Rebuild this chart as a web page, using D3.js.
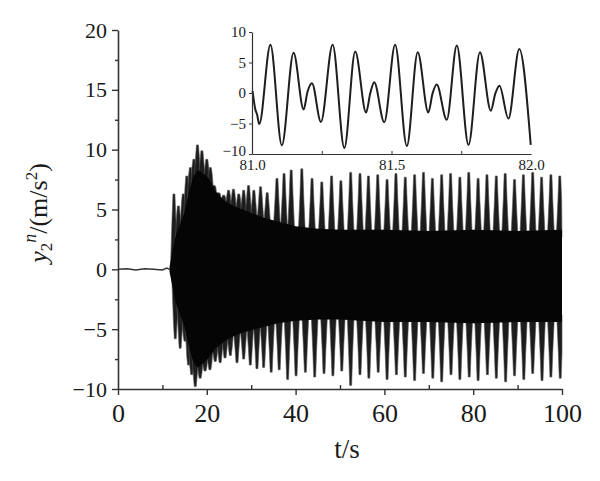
<!DOCTYPE html>
<html><head><meta charset="utf-8">
<script src="https://cdn.jsdelivr.net/npm/d3@7"></script>
<style>
body{margin:0;background:#fff}
svg{display:block}
text{font-family:"Liberation Serif","Times New Roman",serif;fill:#1a1a1a}
</style>
</head><body>
<svg id="c" width="600" height="481"></svg>
<script>
// ---------- data ----------
const xTicks = [0, 20, 40, 60, 80, 100];
const xMinor = [10, 30, 50, 70, 90];
const yTicks = [-10, -5, 0, 5, 10, 15, 20];
const yMinor = [-7.5, -2.5, 2.5, 7.5, 12.5, 17.5];

// quiet part before onset
const flatT = [0, 2, 4, 6, 8, 10, 11, 11.6];
const flatV = [0, 0.05, -0.05, 0.05, 0, -0.05, 0.1, 0];

// solid black core band of the response
const coreT   = [11.6, 12.3, 13, 14, 15, 16, 17, 18, 20, 22, 24, 26, 28, 30, 33, 36, 40, 45, 50, 60, 70, 80, 90, 100];
const coreTop = [0.2, 1.5, 2.8, 3.8, 4.8, 6.5, 7.8, 8.3, 7.8, 6.5, 5.7, 5.3, 5.0, 4.7, 4.3, 4.0, 3.6, 3.4, 3.3, 3.3, 3.2, 3.3, 3.2, 3.3];
const coreBot = [-0.2, -1.5, -2.8, -3.8, -4.8, -6.5, -7.8, -8.2, -7.6, -6.6, -6.0, -5.6, -5.3, -5.1, -4.8, -4.5, -4.3, -4.2, -4.2, -4.4, -4.4, -4.5, -4.4, -4.4];

// upper spikes (beat peaks)
const upT = [12.6, 13.6, 14.7, 15.5, 16.3, 17.1, 17.9, 18.9, 20.0, 20.8, 21.6, 22.6, 23.8, 24.9, 26.0, 27.2, 28.3, 29.4, 30.6, 32.1, 33.6, 35.8, 37.4, 39.0, 41.4, 43.7, 45.9, 48.1, 50.2, 52.4, 54.5, 56.4, 58.5, 60.6, 62.6, 64.7, 66.8, 68.8, 70.8, 72.9, 74.9, 77.0, 79.0, 81.1, 83.1, 85.2, 87.2, 89.3, 91.3, 93.4, 95.4, 97.5, 99.5];
const upV = [6.3, 5.3, 6.3, 7.8, 8.5, 9.2, 10.4, 9.9, 9.2, 8.5, 7.0, 6.4, 6.2, 6.6, 6.7, 6.3, 6.6, 7.0, 6.6, 6.9, 6.4, 7.6, 8.0, 8.3, 8.4, 7.6, 7.3, 7.8, 7.4, 8.1, 8.0, 7.8, 7.9, 7.5, 8.0, 7.7, 7.9, 8.1, 7.6, 7.9, 8.0, 7.7, 8.1, 7.6, 7.9, 7.8, 8.0, 7.5, 7.9, 8.1, 7.7, 7.9, 7.8];

// lower spikes
const loT = [12.9, 14.0, 15.1, 15.9, 16.6, 17.4, 18.5, 19.6, 20.7, 21.9, 23.0, 24.1, 25.3, 26.8, 28.3, 29.8, 31.3, 32.8, 34.5, 36.3, 38.2, 40.1, 42.2, 44.3, 46.4, 48.4, 50.4, 52.4, 54.5, 56.5, 58.6, 60.6, 62.7, 64.7, 66.8, 68.8, 70.9, 72.9, 75.0, 77.0, 79.1, 81.1, 83.2, 85.2, 87.3, 89.3, 91.4, 93.4, 95.5, 97.5, 99.6];
const loV = [-5.8, -6.6, -6.0, -8.0, -8.8, -9.8, -9.1, -8.5, -8.4, -7.7, -7.8, -7.4, -7.2, -7.8, -7.5, -8.0, -8.3, -8.2, -8.6, -8.4, -9.2, -8.9, -8.6, -9.0, -8.7, -8.9, -8.5, -9.7, -8.8, -9.1, -8.6, -9.2, -8.8, -9.0, -9.3, -8.7, -9.1, -9.4, -8.8, -9.2, -9.0, -9.3, -8.8, -9.1, -9.4, -8.9, -9.2, -8.7, -9.3, -9.0, -9.1];

// inset: 81.0 – 82.0 s detail (extrema and shoulders)
const insetT = [81.002, 81.012, 81.018, 81.026, 81.066, 81.107, 81.149, 81.185, 81.199, 81.215, 81.247, 81.289, 81.331, 81.370, 81.409, 81.424, 81.438, 81.474, 81.513, 81.555, 81.594, 81.632, 81.647, 81.662, 81.698, 81.734, 81.776, 81.817, 81.856, 81.872, 81.887, 81.919, 81.958, 81.999];
const insetV = [0.3, -2.7, -3.5, -5.1, 7.9, -8.6, 6.6, -2.7, 0.2, 1.6, -4.75, 7.9, -9.0, 6.8, -3.2, 0.0, 1.75, -4.8, 7.9, -8.7, 6.7, -3.2, -0.1, 1.4, -4.4, 7.8, -8.5, 6.7, -2.9, -0.1, 1.2, -4.2, 7.2, -8.5];
const insetXTicks = [81.0, 81.5, 82.0];
const insetXMinor = [81.25, 81.5, 81.75];
const insetYTicks = [-10, -5, 0, 5, 10];

// ---------- drawing ----------
const svg = d3.select('#c');
const x = d3.scaleLinear().domain([0, 100]).range([118, 562]);
const y = d3.scaleLinear().domain([-10, 20]).range([389, 30]);
const topAt = d3.scaleLinear().domain(coreT).range(coreTop).clamp(true);
const botAt = d3.scaleLinear().domain(coreT).range(coreBot).clamp(true);

const g = svg.append('g');

// quiet line
g.append('path')
  .datum(flatT.map((t, i) => [t, flatV[i]]))
  .attr('d', d3.line().x(d => x(d[0])).y(d => y(d[1])))
  .attr('fill', 'none').attr('stroke', '#333').attr('stroke-width', 1.5);

// spikes: blunt bars rising out of the core band
const hw = 0.8, sw = 0.42, tw = 0.22;
function tooth(t, v, at) {
  const a = Math.max(t - hw, coreT[0]), b = Math.min(t + hw, 100);
  const sgn = v > 0 ? 1 : -1;
  const ba = at(a) - 0.6 * sgn, bb = at(b) - 0.6 * sgn;
  const mid = at(t) + 0.55 * (v - at(t));
  return [[x(a), y(ba)], [x(t - sw), y(mid)], [x(t - tw), y(v)], [x(t + tw), y(v)], [x(Math.min(t + sw, 100)), y(mid)], [x(b), y(bb)]];
}
const poly = d3.line();
g.selectAll('path.up').data(upT.map((t, i) => tooth(t, upV[i], topAt)))
  .join('path').attr('class', 'up').attr('d', d => poly(d) + 'Z')
  .attr('fill', '#1c1c1c').attr('stroke', '#555').attr('stroke-width', 0.6);
g.selectAll('path.lo').data(loT.map((t, i) => tooth(t, loV[i], botAt)))
  .join('path').attr('class', 'lo').attr('d', d => poly(d) + 'Z')
  .attr('fill', '#1c1c1c').attr('stroke', '#555').attr('stroke-width', 0.6);

// core band (drawn over the spike bases)
g.append('path')
  .datum(coreT.map((t, i) => i))
  .attr('d', d3.area().x(i => x(coreT[i])).y0(i => y(coreBot[i])).y1(i => y(coreTop[i])))
  .attr('fill', '#050505');

// axes
const fmt = d => (d < 0 ? '\u2212' + Math.abs(d) : '' + d);
function styleAxis(sel, fs) {
  sel.selectAll('path.domain').attr('stroke', '#333').attr('stroke-width', 1.6);
  sel.selectAll('.tick line').attr('stroke', '#333').attr('stroke-width', 1.4);
  sel.selectAll('.tick text').style('font-size', fs).attr('fill', '#1a1a1a');
}
const ya = svg.append('g').attr('transform', 'translate(118,0)')
  .call(d3.axisLeft(y).tickValues(yTicks).tickFormat(fmt).tickSize(6).tickSizeOuter(0).tickPadding(5));
styleAxis(ya, '22px');
const ym = svg.append('g').attr('transform', 'translate(118,0)')
  .call(d3.axisLeft(y).tickValues(yMinor).tickFormat('').tickSize(3));
ym.select('path.domain').remove(); styleAxis(ym, '0px');

const xa = svg.append('g').attr('transform', 'translate(0,389)')
  .call(d3.axisBottom(x).tickValues(xTicks).tickFormat(fmt).tickSize(6).tickSizeOuter(0).tickPadding(9));
styleAxis(xa, '26px');
const xm = svg.append('g').attr('transform', 'translate(0,389)')
  .call(d3.axisBottom(x).tickValues(xMinor).tickFormat('').tickSize(-4));
xm.select('path.domain').remove(); styleAxis(xm, '0px');

// axis titles
svg.append('text').attr('x', 347).attr('y', 458).attr('text-anchor', 'middle')
  .style('font-size', '27px').text('t/s');
const yt = svg.append('text').attr('transform', 'translate(47,213) rotate(-90)')
  .attr('text-anchor', 'middle').style('font-size', '26px');
yt.append('tspan').style('font-style', 'italic').text('y');
yt.append('tspan').attr('dy', 5).style('font-size', '17px').text('2');
yt.append('tspan').attr('dy', -16).style('font-size', '18px').style('font-style', 'italic').text('n');
yt.append('tspan').attr('dy', 11).text('/(m/s');
yt.append('tspan').attr('dy', -10).style('font-size', '17px').text('2');
yt.append('tspan').attr('dy', 10).text(')');

// inset
const xi = d3.scaleLinear().domain([81, 82]).range([252, 531]);
const yi = d3.scaleLinear().domain([-10, 10]).range([154, 32]);
svg.append('path')
  .datum(insetT.map((t, i) => [t, insetV[i]]))
  .attr('d', d3.line().x(d => xi(d[0])).y(d => yi(d[1])).curve(d3.curveMonotoneX))
  .attr('fill', 'none').attr('stroke', '#1e1e1e').attr('stroke-width', 2);
const iya = svg.append('g').attr('transform', 'translate(252,0)')
  .call(d3.axisLeft(yi).tickValues(insetYTicks).tickFormat(fmt).tickSize(3).tickSizeOuter(0).tickPadding(3));
styleAxis(iya, '15px');
iya.selectAll('path.domain').attr('stroke-width', 1.2);
iya.selectAll('.tick line').attr('stroke-width', 1);
// lowest inset label sits a little higher, as in the reference
iya.selectAll('.tick text').filter(d => d === -10).attr('dy', '0.1em');
const ixa = svg.append('g').attr('transform', 'translate(0,154)')
  .call(d3.axisBottom(xi).tickValues(insetXTicks).tickFormat(d3.format('.1f')).tickSize(0).tickSizeOuter(0).tickPadding(5));
styleAxis(ixa, '15px');
ixa.selectAll('path.domain').attr('stroke-width', 1.2);
const ixm = svg.append('g').attr('transform', 'translate(0,154)')
  .call(d3.axisBottom(xi).tickValues(insetXMinor).tickFormat('').tickSize(-3));
ixm.select('path.domain').remove(); styleAxis(ixm, '0px');
ixm.selectAll('.tick line').attr('stroke-width', 1);
</script>
</body></html>
